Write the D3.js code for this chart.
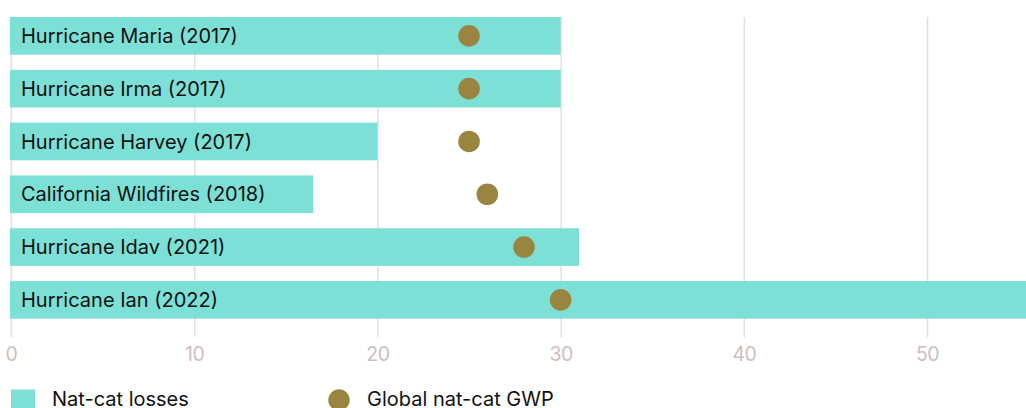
<!DOCTYPE html>
<html>
<head>
<meta charset="utf-8">
<script src="https://cdn.jsdelivr.net/npm/d3@7"></script>
<style>
  body { margin: 0; background: #fff; }
  svg { display: block; font-family: Inter, "Noto Sans", sans-serif; }
</style>
</head>
<body>
<svg id="chart" width="1026" height="408"></svg>
<script>
const events = ['Hurricane Maria (2017)', 'Hurricane Irma (2017)', 'Hurricane Harvey (2017)',
  'California Wildfires (2018)', 'Hurricane Idav (2021)', 'Hurricane Ian (2022)'];
const losses = [30, 30, 20, 16.5, 31, 60];
const gwp = [25, 25, 25, 26, 28, 30];
const ticks = [0, 10, 20, 30, 40, 50];

const barColor = '#7de0d6';
const dotColor = '#9a8540';

const svg = d3.select('#chart');

const x = d3.scaleLinear().domain([0, 55.4]).range([11, 1026]);
const y = d3.scaleBand().domain(events).range([17, 318.7]).paddingInner(0.286).paddingOuter(0);

// grid + axis
svg.append('g')
  .attr('transform', 'translate(0,337)')
  .call(d3.axisBottom(x).tickValues(ticks).tickSize(-320).tickPadding(10))
  .call(g => g.select('.domain').remove())
  .call(g => g.selectAll('.tick line').attr('stroke', '#e0e0e0').attr('stroke-width', 1.5))
  .call(g => g.selectAll('.tick text')
    .attr('fill', '#cdbdbd').attr('font-size', 19.5).attr('font-family', 'Inter, sans-serif')
    .attr('letter-spacing', '-0.5px'));

// bars
svg.append('g').selectAll('rect')
  .data(events)
  .enter()
  .append('rect')
  .attr('x', x(0) - 1)
  .attr('y', d => y(d))
  .attr('width', (d, i) => x(losses[i]) - x(0) + 1)
  .attr('height', y.bandwidth())
  .attr('fill', barColor);

// labels
svg.append('g').selectAll('text')
  .data(events)
  .enter()
  .append('text')
  .attr('x', 21)
  .attr('y', d => y(d) + y.bandwidth() / 2)
  .attr('dy', '0.36em')
  .attr('font-size', 20)
  .attr('fill', '#111')
  .text(d => d);

// dots
svg.append('g').selectAll('circle')
  .data(events)
  .enter()
  .append('circle')
  .attr('cx', (d, i) => x(gwp[i]))
  .attr('cy', d => y(d) + y.bandwidth() / 2)
  .attr('r', 10.8)
  .attr('fill', dotColor);

// legend
const legend = svg.append('g');
legend.append('rect').attr('x', 11).attr('y', 389.5).attr('width', 24).attr('height', 24).attr('fill', barColor);
legend.append('text').attr('x', 52).attr('y', 406).attr('font-size', 20).attr('fill', '#111').text('Nat-cat losses');
legend.append('circle').attr('cx', 339).attr('cy', 400).attr('r', 10.7).attr('fill', dotColor);
legend.append('text').attr('x', 367).attr('y', 406).attr('font-size', 20).attr('fill', '#111').text('Global nat-cat GWP');
</script>
</body>
</html>
